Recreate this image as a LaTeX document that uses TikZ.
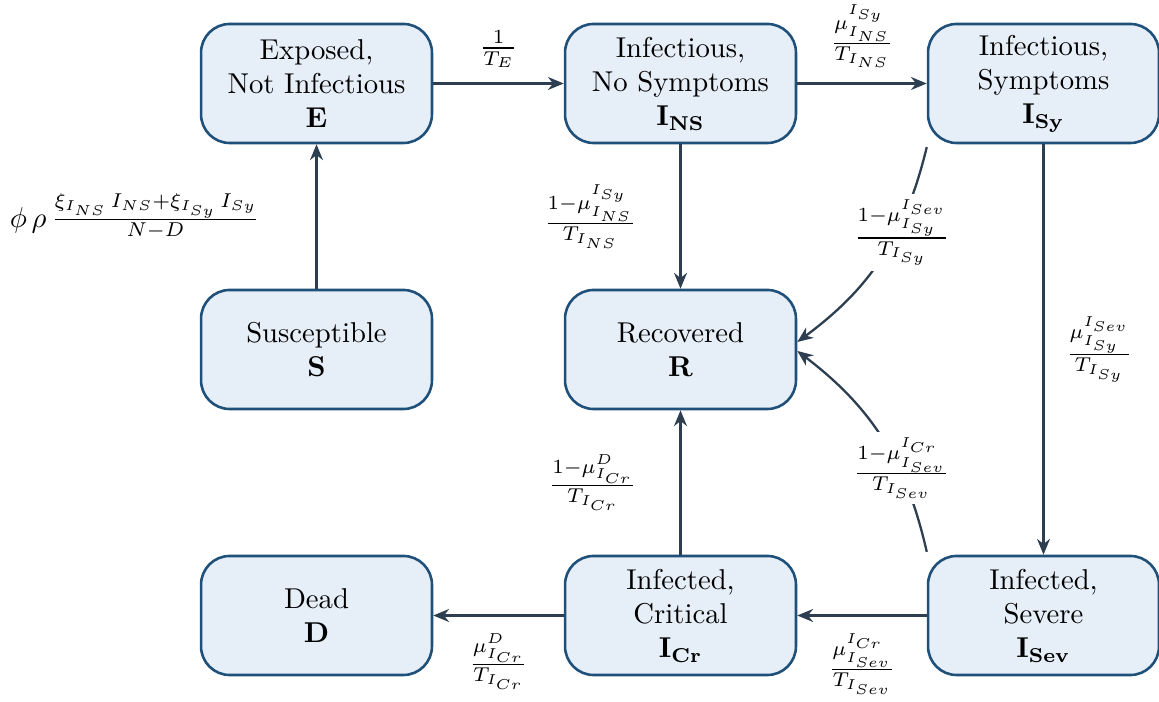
\documentclass[tikz,border=0pt]{standalone}
\usetikzlibrary{arrows.meta}
\definecolor{boxfill}{RGB}{230,238,247}
\definecolor{boxdraw}{RGB}{30,80,122}
\definecolor{arr}{RGB}{44,62,80}
\begin{document}
\begin{tikzpicture}[x=0.3486pt,y=-0.3486pt,
  state/.style={draw=boxdraw, fill=boxfill, line width=0.9pt, rounded corners=10pt,
    minimum width=80.5pt, minimum height=41.5pt, align=center, inner sep=0pt},
  flow/.style={draw=arr, line width=0.8pt, -{Stealth[length=5.5pt,width=4.5pt]}},
  lbl/.style={inner sep=2pt},
  clbl/.style={fill=white, inner sep=2pt}]
\useasboundingbox (0,0) rectangle (1159,702);
\node[state] (E)   at (316.5,83.5)  {Exposed,\\Not Infectious\\$\mathbf{E}$};
\node[state] (INS) at (680.5,83.5)  {Infectious,\\No Symptoms\\$\mathbf{I_{NS}}$};
\node[state] (ISy) at (1043.5,83.5) {Infectious,\\Symptoms\\$\mathbf{I_{Sy}}$};
\node[state] (S)   at (316.5,349.5) {Susceptible\\$\mathbf{S}$};
\node[state] (R)   at (680.5,349.5) {Recovered\\$\mathbf{R}$};
\node[state] (D)   at (316.5,615.5) {Dead\\$\mathbf{D}$};
\node[state] (ICr) at (680.5,615.5) {Infected,\\Critical\\$\mathbf{I_{Cr}}$};
\node[state] (ISev) at (1043.5,615.5) {Infected,\\Severe\\$\mathbf{I_{Sev}}$};

\draw[flow] (E) -- node[lbl, above=3pt] {$\frac{1}{T_E}$} (INS);
\draw[flow] (INS) -- node[lbl, above=3pt] {$\frac{\mu_{I_{NS}}^{I_{Sy}}}{T_{I_{NS}}}$} (ISy);
\draw[flow] (S) -- node[lbl, left=17.5pt] {$\phi\,\rho\,\frac{\xi_{I_{NS}}\,I_{NS}+\xi_{I_{Sy}}\,I_{Sy}}{N-D}$} (E);
\draw[flow] (INS) -- node[lbl, left=13pt] {$\frac{1-\mu_{I_{NS}}^{I_{Sy}}}{T_{I_{NS}}}$} (R);
\draw[flow] (ICr) -- node[lbl, left=13pt] {$\frac{1-\mu_{I_{Cr}}^{D}}{T_{I_{Cr}}}$} (R);
\draw[flow] (ISy) -- node[lbl, right=5.5pt] {$\frac{\mu_{I_{Sy}}^{I_{Sev}}}{T_{I_{Sy}}}$} (ISev);
\draw[flow] (ISev) -- node[lbl, below=4pt] {$\frac{\mu_{I_{Sev}}^{I_{Cr}}}{T_{I_{Sev}}}$} (ICr);
\draw[flow] (ICr) -- node[lbl, below=4pt] {$\frac{\mu_{I_{Cr}}^{D}}{T_{I_{Cr}}}$} (D);
\draw[flow] ([yshift=-1pt]ISy.south west) to[bend left=20] node[clbl, pos=0.37, xshift=2pt] {$\frac{1-\mu_{I_{Sy}}^{I_{Sev}}}{T_{I_{Sy}}}$} ([yshift=2.6pt]R.east);
\draw[flow] ([yshift=1pt]ISev.north west) to[bend right=20] node[clbl, pos=0.35, xshift=1pt] {$\frac{1-\mu_{I_{Sev}}^{I_{Cr}}}{T_{I_{Sev}}}$} ([yshift=-0.5pt]R.east);
\end{tikzpicture}
\end{document}
